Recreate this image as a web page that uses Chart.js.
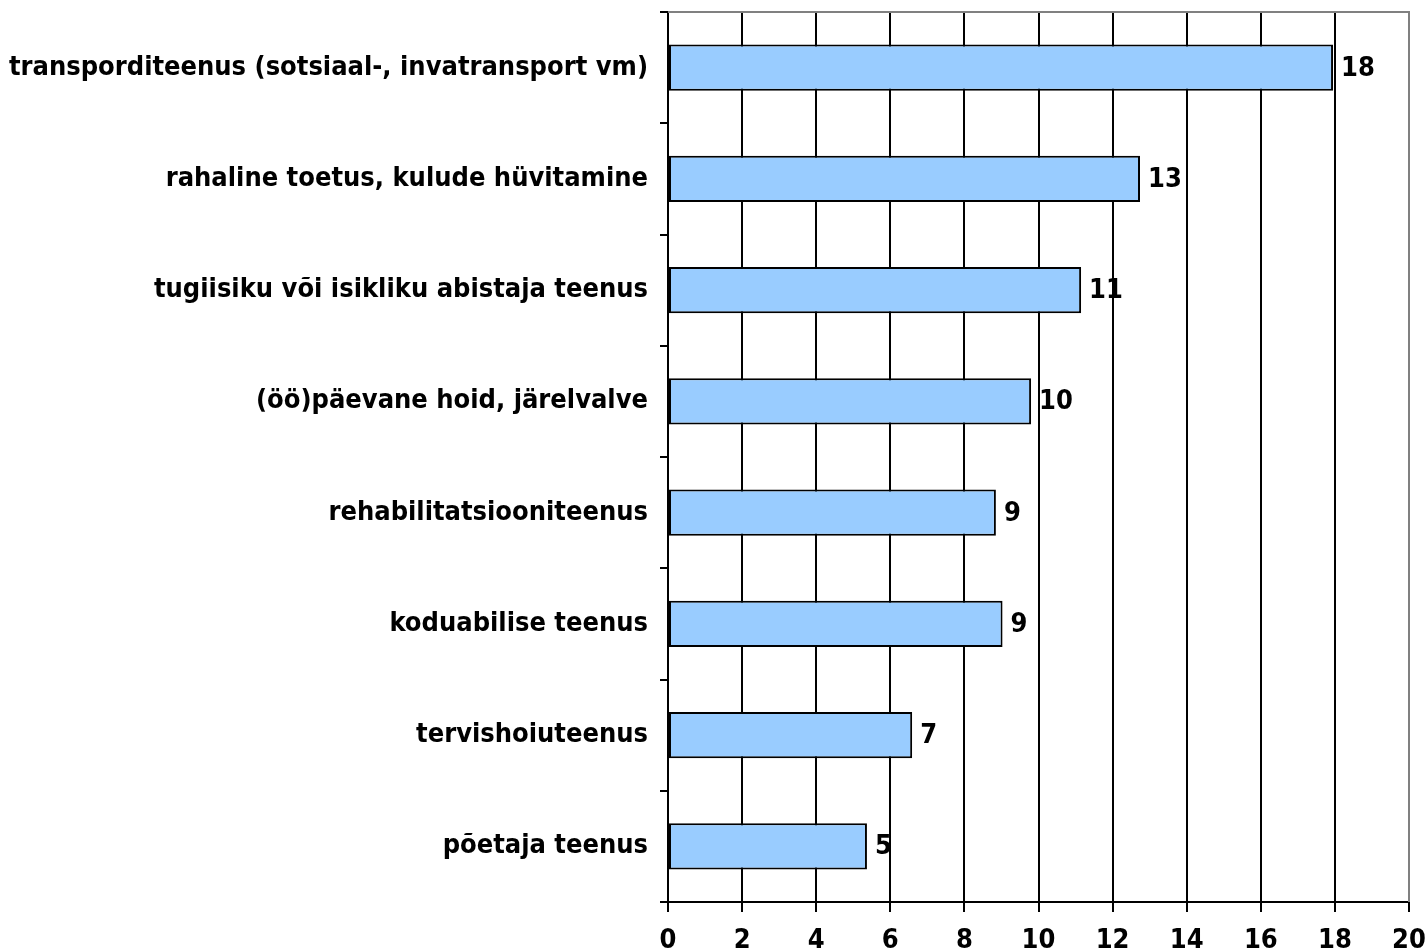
<!DOCTYPE html>
<html>
<head>
<meta charset="utf-8">
<script src="https://cdn.jsdelivr.net/npm/chart.js@4/dist/chart.umd.min.js"></script>
<style>
  html, body { margin: 0; padding: 0; background: #fff; }
  #wrap { width: 1425px; height: 950px; position: relative; }
</style>
</head>
<body>
<div id="wrap"><canvas id="chart"></canvas></div>
<script>
// categories, top to bottom
const categories = [
  'transporditeenus (sotsiaal-, invatransport vm)',
  'rahaline toetus, kulude hüvitamine',
  'tugiisiku või isikliku abistaja teenus',
  '(öö)päevane hoid, järelvalve',
  'rehabilitatsiooniteenus',
  'koduabilise teenus',
  'tervishoiuteenus',
  'põetaja teenus'
];
// bar lengths (labels show rounded values)
const values = [17.95, 12.74, 11.15, 9.8, 8.85, 9.03, 6.59, 5.37];
const xMin = 0, xMax = 20, xStep = 2;

const FONT = "'DejaVu Sans Condensed', 'DejaVu Sans', sans-serif";
const FSIZE = 27;

// value labels right of bars
const valueLabels = {
  id: 'valueLabels',
  afterDatasetsDraw(chart) {
    const ctx = chart.ctx;
    const meta = chart.getDatasetMeta(0);
    ctx.save();
    ctx.font = 'bold ' + FSIZE + 'px ' + FONT;
    ctx.fillStyle = '#000';
    ctx.textAlign = 'left';
    ctx.textBaseline = 'middle';
    meta.data.forEach((bar, i) => {
      ctx.fillText(String(Math.round(values[i])), bar.x + 8, bar.y + 1);
    });
    ctx.restore();
  }
};

// grey frame on top and right of plot area
const frame = {
  id: 'frame',
  afterDraw(chart) {
    const { ctx, chartArea: a } = chart;
    ctx.save();
    ctx.strokeStyle = '#808080';
    ctx.lineWidth = 2;
    ctx.beginPath();
    ctx.moveTo(a.left, a.top);
    ctx.lineTo(a.right, a.top);
    ctx.lineTo(a.right, a.bottom);
    ctx.stroke();
    // top tick on the y axis stays black
    ctx.strokeStyle = '#000';
    ctx.beginPath();
    ctx.moveTo(a.left - 8, a.top);
    ctx.lineTo(a.left, a.top);
    ctx.stroke();
    ctx.restore();
  }
};

new Chart(document.getElementById('chart'), {
  type: 'bar',
  data: {
    labels: categories,
    datasets: [{
      data: values,
      backgroundColor: '#99CCFF',
      borderColor: '#000',
      borderWidth: 2,
      borderSkipped: false,
      categoryPercentage: 1,
      barPercentage: 0.415
    }]
  },
  options: {
    indexAxis: 'y',
    responsive: true,
    maintainAspectRatio: false,
    animation: false,
    layout: { padding: { left: 0, top: 12, right: 16, bottom: 0 } },
    plugins: { legend: { display: false }, tooltip: { enabled: false } },
    scales: {
      x: {
        min: xMin, max: xMax,
        ticks: {
          stepSize: xStep,
          color: '#000',
          font: { family: FONT, size: FSIZE, weight: 'bold' },
          padding: 13
        },
        grid: {
          color: c => (c.tick && c.tick.value === xMax) ? '#808080' : '#000',
          lineWidth: 2,
          tickLength: 10,
          tickColor: '#000'
        },
        border: { color: '#000', width: 2 },
        afterFit: s => { s.height = 48; s.paddingLeft = 0; s.paddingRight = 0; }
      },
      y: {
        ticks: {
          color: '#000',
          font: { family: FONT, size: FSIZE, weight: 'bold' },
          padding: 12
        },
        grid: {
          drawOnChartArea: false,
          offset: true,
          tickLength: 8,
          lineWidth: 2,
          color: '#000'
        },
        border: { color: '#000', width: 2 },
        afterFit: s => { s.width = 668; s.paddingTop = 0; s.paddingBottom = 0; }
      }
    }
  },
  plugins: [valueLabels, frame]
});
</script>
</body>
</html>
